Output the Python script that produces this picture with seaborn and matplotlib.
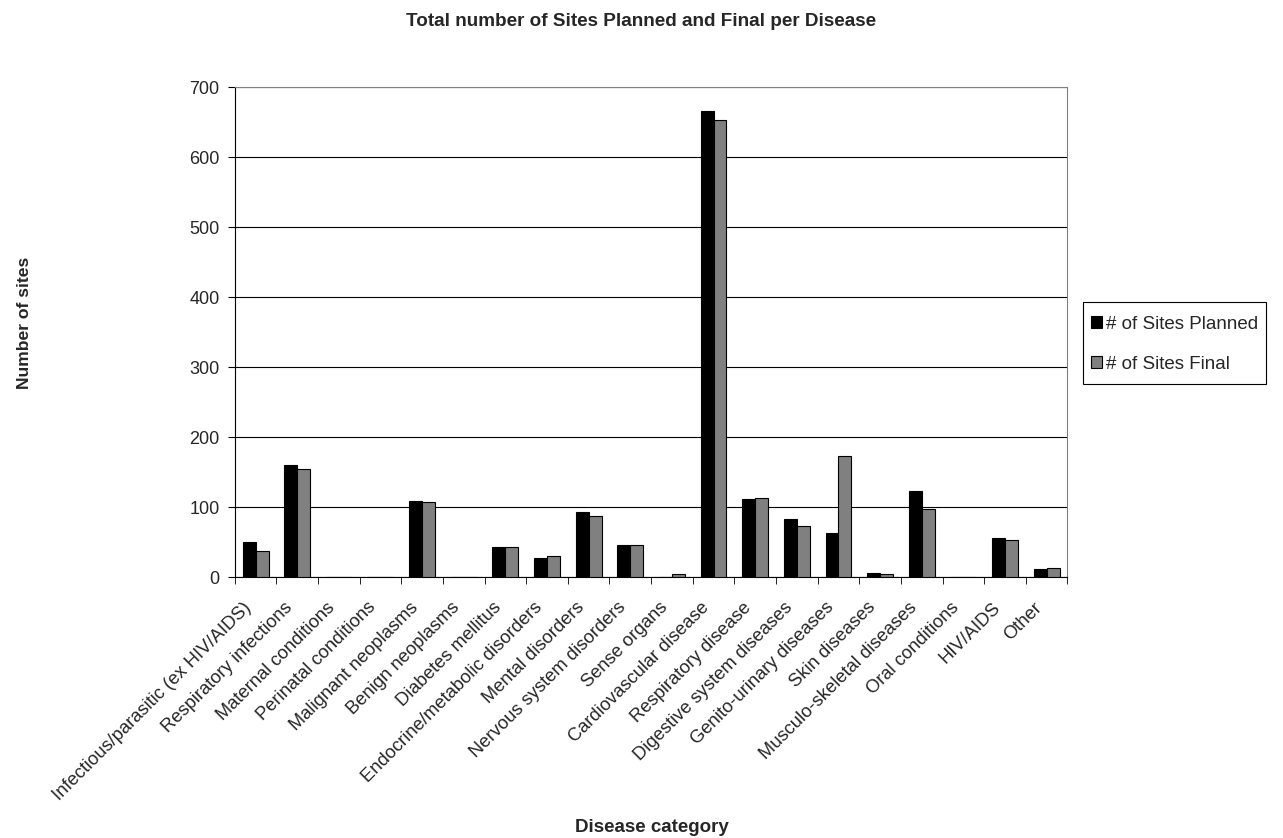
import matplotlib
matplotlib.use('Agg')
from matplotlib import pyplot as plt
from matplotlib.patches import Rectangle
import seaborn as sns
import pandas as pd
import numpy as np

categories = ['Infectious/parasitic (ex HIV/AIDS)', 'Respiratory infections', 'Maternal conditions',
              'Perinatal conditions', 'Malignant neoplasms', 'Benign neoplasms', 'Diabetes mellitus',
              'Endocrine/metabolic disorders', 'Mental disorders', 'Nervous system disorders',
              'Sense organs', 'Cardiovascular disease', 'Respiratory disease', 'Digestive system diseases',
              'Genito-urinary diseases', 'Skin diseases', 'Musculo-skeletal diseases', 'Oral conditions',
              'HIV/AIDS', 'Other']
planned = [50, 161, 0, 0, 109, 0, 43, 28, 93, 46, 0, 666, 112, 83, 63, 6, 124, 0, 56, 12]
final = [37, 155, 0, 0, 107, 0, 43, 30, 88, 46, 5, 653, 114, 73, 174, 5, 97, 0, 54, 14]
series = ['# of Sites Planned', '# of Sites Final']

df = pd.DataFrame({
    'category': categories * 2,
    'value': planned + final,
    'series': [series[0]] * len(categories) + [series[1]] * len(categories),
})

sns.set_style('white')
plt.rcParams['font.family'] = ['Liberation Sans', 'DejaVu Sans']

fig = plt.figure(figsize=(12.83, 8.38), dpi=100)
ax = fig.add_axes([0.183, 0.311, 0.649, 0.585])

sns.barplot(data=df, x='category', y='value', hue='series', palette=['#000000', '#808080'],
            width=0.62, gap=0, edgecolor='black', linewidth=0.8, ax=ax, zorder=3)

ax.set_ylim(0, 700)
ax.set_xlim(-0.5, len(categories) - 0.5)
ax.set_yticks(range(0, 701, 100))
ax.yaxis.grid(True, color='black', linewidth=0.8, zorder=0)
ax.xaxis.grid(False)
for s in ['top', 'right']:
    ax.spines[s].set_color('#808080')
for s in ['left', 'bottom']:
    ax.spines[s].set_color('black')

# labels sit slightly left of the category centre, like the Excel original
ax.set_xticks(np.arange(len(categories)) - 0.31)
ax.set_xticklabels(categories, rotation=45, ha='right', rotation_mode='anchor', fontsize=13.2)
ax.set_xticks(np.arange(-0.5, len(categories), 1), minor=True)
ax.tick_params(axis='x', which='major', length=0, pad=15.5)
ax.tick_params(axis='x', which='minor', length=5, color='black', direction='out', bottom=True)
ax.tick_params(axis='y', length=5, color='black', direction='out', left=True, labelsize=13, pad=6)
ax.set_xlabel('')
ax.set_ylabel('')

fig.text(0.5, 1 - 22 / 838, 'Total number of Sites Planned and Final per Disease',
         fontsize=13.6, fontweight='bold', ha='center', va='center')
fig.text(652 / 1283, 1 - 827 / 838, 'Disease category', fontsize=13.5, fontweight='bold',
         ha='center', va='center')
fig.text(25 / 1283, 1 - 323 / 838, 'Number of sites', fontsize=12.6, fontweight='bold',
         ha='center', va='center', rotation=90)

# legend box drawn separately so its padding matches the reference
fig.patches.append(Rectangle((1083 / 1283, 1 - 384 / 838), 183 / 1283, 82 / 838,
                             transform=fig.transFigure, facecolor='white', edgecolor='black',
                             linewidth=0.8, zorder=-1))
leg = ax.legend(loc='upper left', bbox_to_anchor=(1091 / 1283, 1 - 316 / 838),
                bbox_transform=fig.transFigure, frameon=False,
                fontsize=13.5, handlelength=0.6, handleheight=0.6,
                handletextpad=0.2, labelspacing=1.2, borderpad=0, borderaxespad=0)

fig.savefig('out.png', dpi=100)
